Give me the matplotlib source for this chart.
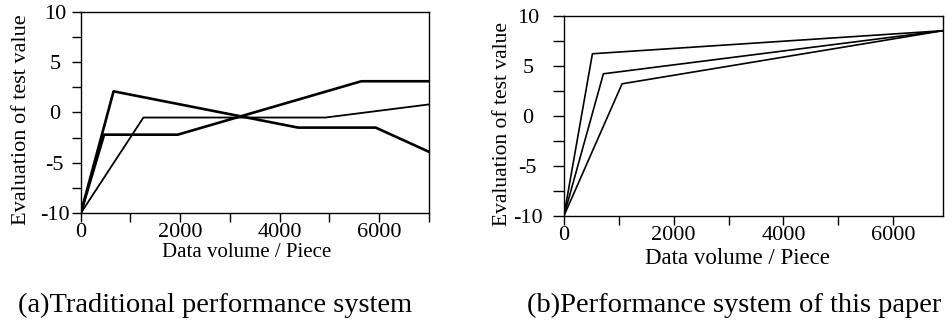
import matplotlib
matplotlib.use("Agg")
import matplotlib.pyplot as plt
from matplotlib.ticker import MultipleLocator

plt.rcParams['font.family'] = ['Liberation Serif', 'DejaVu Serif']
plt.rcParams['axes.unicode_minus'] = False

# (a) traditional performance system
a_x1 = [0, 660, 4370, 5930, 7000]
a_y1 = [-10, 2.1, -1.5, -1.5, -3.9]
a_x2 = [0, 470, 1950, 5640, 7000]
a_y2 = [-10, -2.2, -2.2, 3.1, 3.1]
a_x3 = [0, 1260, 4920, 7000]
a_y3 = [-10, -0.5, -0.5, 0.8]

# (b) performance system of this paper
b_x1 = [0, 520, 6900]
b_y1 = [-10, 6.2, 8.5]
b_x2 = [0, 720, 6900]
b_y2 = [-10, 4.2, 8.5]
b_x3 = [0, 1060, 6900]
b_y3 = [-10, 3.2, 8.5]

xlabel = "Data volume / Piece"
ylabel = "Evaluation of test value"
captions = ["(a)Traditional performance system", "(b)Performance system of this paper"]

fig = plt.figure(figsize=(9.52, 3.22), dpi=100)
ax1 = fig.add_axes([0.0848, 0.3376, 0.3658, 0.6261])
ax2 = fig.add_axes([0.5923, 0.3292, 0.3979, 0.6220])

ax1.plot(a_x1, a_y1, color='black', lw=1.9)
ax1.plot(a_x2, a_y2, color='black', lw=1.9)
ax1.plot(a_x3, a_y3, color='black', lw=1.3)
ax1.set_xlim(0, 7000)

ax2.plot(b_x1, b_y1, color='black', lw=1.2)
ax2.plot(b_x2, b_y2, color='black', lw=1.2)
ax2.plot(b_x3, b_y3, color='black', lw=1.2)
ax2.set_xlim(0, 6900)

for ax in (ax1, ax2):
    ax.set_ylim(-10, 10)
    ax.xaxis.set_major_locator(MultipleLocator(2000))
    ax.xaxis.set_minor_locator(MultipleLocator(1000))
    ax.yaxis.set_major_locator(MultipleLocator(5))
    ax.yaxis.set_minor_locator(MultipleLocator(2.5))
    ax.tick_params(which='both', direction='out', length=6.5, width=1, labelsize=16)
    ax.tick_params(axis='x', which='both', pad=0.5)
    ax.tick_params(which='both', top=False, right=False)
    for s in ax.spines.values():
        s.set_linewidth(1.0)
    plt.setp(ax.get_yticklabels(), ha='center')

ax1.tick_params(axis='y', which='both', pad=12.2)
ax2.tick_params(axis='y', which='both', length=8, pad=18)

ax1.set_xlabel(xlabel, fontsize=15)
ax1.set_ylabel(ylabel, fontsize=16)
ax2.set_xlabel(xlabel, fontsize=16.5)
ax2.set_ylabel(ylabel, fontsize=15.5)

ax1.xaxis.set_label_coords(0.475, -0.145)
ax1.yaxis.set_label_coords(-0.143, 0.463)
ax2.xaxis.set_label_coords(0.458, -0.16)
ax2.yaxis.set_label_coords(-0.136, 0.459)

fig.text(0.2264, 0.031, captions[0], ha='center', va='baseline', fontsize=20.5)
fig.text(0.7715, 0.031, captions[1], ha='center', va='baseline', fontsize=20.5)

plt.savefig("out.png", dpi=100)
